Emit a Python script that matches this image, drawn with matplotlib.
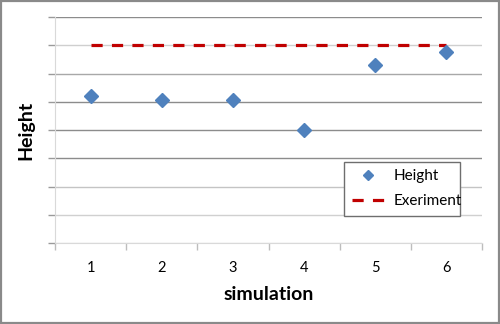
import matplotlib
matplotlib.use("Agg")
import matplotlib.pyplot as plt
from matplotlib.patches import Rectangle

plt.rcParams['font.family'] = ['Lato', 'DejaVu Sans']

# data
simulation = [1, 2, 3, 4, 5, 6]
height = [5.2, 5.05, 5.05, 4.0, 6.3, 6.75]
experiment = [7.0, 7.0, 7.0, 7.0, 7.0, 7.0]
x_tick_labels = ["1", "2", "3", "4", "5", "6"]

fig = plt.figure(figsize=(5.0, 3.24), dpi=100)
ax = fig.add_axes([0.110, 0.250, 0.854, 0.6975])

ax.plot(simulation, experiment, color='#C00000', lw=2.3, linestyle=(0, (3.5, 2.9)),
        dash_capstyle='butt', label='Exeriment', zorder=3)
ax.plot(simulation, height, linestyle='none', marker='D', ms=7.5, color='#4F81BD',
        mec='#4F81BD', label='Height', zorder=4)

ax.set_xlim(0.5, 6.5)
ax.set_ylim(0, 8)

# y axis: gridlines only, no labels
ax.set_yticks(range(0, 9))
ax.set_yticklabels([])
ax.tick_params(axis='y', length=5, color='#9a9a9a', width=1)
ax.grid(axis='y', color='#8c8c8c', lw=1.0)
light = {1: '#d0d0d0', 2: '#c4c4c4', 6: '#a8a8a8', 7: '#cfcfcf', 0: '#d8d8d8'}
for i, gl in enumerate(ax.get_ygridlines()):
    if i in light:
        gl.set_color(light[i])
ax.set_axisbelow(True)

# x axis: ticks at category boundaries, labels at category centres
ax.set_xticks([0.5 + i for i in range(7)])
ax.set_xticklabels([])
ax.set_xticks(simulation, minor=True)
ax.set_xticklabels(x_tick_labels, minor=True, fontsize=10.5)
ax.tick_params(axis='x', which='major', length=5, color='#bdbdbd', width=1, direction='out')
ax.tick_params(axis='x', which='minor', length=0, pad=13)

for s in ['top', 'right']:
    ax.spines[s].set_visible(False)
ax.spines['left'].set_color('#d9d9d9')
ax.spines['bottom'].set_color('#d9d9d9')

ax.set_xlabel('simulation', fontsize=14, fontweight='bold', labelpad=8)
ax.set_ylabel('Height', fontsize=14, fontweight='bold', labelpad=6)

handles, labels = ax.get_legend_handles_labels()
leg = ax.legend(handles[::-1], labels[::-1], loc='center',
                bbox_to_anchor=(0.66, 0.11, 0.307, 0.262), mode='expand',
                fancybox=False, framealpha=1, edgecolor='#6e6e6e',
                fontsize=11, handlelength=2.1, borderpad=0.5, labelspacing=0.7,
                handletextpad=0.6, markerscale=0.7)
leg.get_frame().set_linewidth(1.0)

# outer frame of the chart
fig.patches.append(Rectangle((0.002, 0.003), 0.996, 0.994, transform=fig.transFigure,
                             fill=False, edgecolor='#8a8a8a', lw=1.6))

fig.savefig('out.png', dpi=100)
